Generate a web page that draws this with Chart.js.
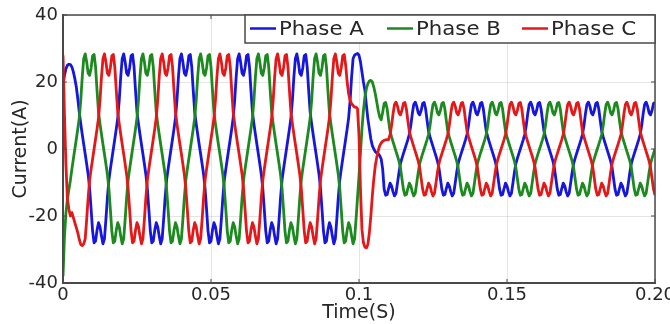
<!DOCTYPE html>
<html>
<head>
<meta charset="utf-8">
<script src="https://cdn.jsdelivr.net/npm/chart.js@4/dist/chart.umd.min.js"></script>
<style>
  html, body { margin: 0; padding: 0; background: #fff; }
  #currentChart { display: block; }
</style>
</head>
<body>
<canvas id="currentChart" width="670" height="324"></canvas>
<script>
/**
 * Courants de phase - simulation 0 a 0.2 s
 * Echantillons toutes les 0.5 ms, changement de charge a 0.1 s
 */

// Instants d'echantillonnage (ms)
const TIME_MS = [
    0, 0.5, 1, 1.5, 2, 2.5, 3, 3.5, 4, 4.5, 5, 5.5, 6, 6.5, 7, 7.5, 8, 8.5, 9, 9.5,
    10, 10.5, 11, 11.5, 12, 12.5, 13, 13.5, 14, 14.5, 15, 15.5, 16, 16.5, 17, 17.5, 18, 18.5, 19, 19.5,
    20, 20.5, 21, 21.5, 22, 22.5, 23, 23.5, 24, 24.5, 25, 25.5, 26, 26.5, 27, 27.5, 28, 28.5, 29, 29.5,
    30, 30.5, 31, 31.5, 32, 32.5, 33, 33.5, 34, 34.5, 35, 35.5, 36, 36.5, 37, 37.5, 38, 38.5, 39, 39.5,
    40, 40.5, 41, 41.5, 42, 42.5, 43, 43.5, 44, 44.5, 45, 45.5, 46, 46.5, 47, 47.5, 48, 48.5, 49, 49.5,
    50, 50.5, 51, 51.5, 52, 52.5, 53, 53.5, 54, 54.5, 55, 55.5, 56, 56.5, 57, 57.5, 58, 58.5, 59, 59.5,
    60, 60.5, 61, 61.5, 62, 62.5, 63, 63.5, 64, 64.5, 65, 65.5, 66, 66.5, 67, 67.5, 68, 68.5, 69, 69.5,
    70, 70.5, 71, 71.5, 72, 72.5, 73, 73.5, 74, 74.5, 75, 75.5, 76, 76.5, 77, 77.5, 78, 78.5, 79, 79.5,
    80, 80.5, 81, 81.5, 82, 82.5, 83, 83.5, 84, 84.5, 85, 85.5, 86, 86.5, 87, 87.5, 88, 88.5, 89, 89.5,
    90, 90.5, 91, 91.5, 92, 92.5, 93, 93.5, 94, 94.5, 95, 95.5, 96, 96.5, 97, 97.5, 98, 98.5, 99, 99.5,
    100, 100.5, 101, 101.5, 102, 102.5, 103, 103.5, 104, 104.5, 105, 105.5, 106, 106.5, 107, 107.5, 108, 108.5, 109, 109.5,
    110, 110.5, 111, 111.5, 112, 112.5, 113, 113.5, 114, 114.5, 115, 115.5, 116, 116.5, 117, 117.5, 118, 118.5, 119, 119.5,
    120, 120.5, 121, 121.5, 122, 122.5, 123, 123.5, 124, 124.5, 125, 125.5, 126, 126.5, 127, 127.5, 128, 128.5, 129, 129.5,
    130, 130.5, 131, 131.5, 132, 132.5, 133, 133.5, 134, 134.5, 135, 135.5, 136, 136.5, 137, 137.5, 138, 138.5, 139, 139.5,
    140, 140.5, 141, 141.5, 142, 142.5, 143, 143.5, 144, 144.5, 145, 145.5, 146, 146.5, 147, 147.5, 148, 148.5, 149, 149.5,
    150, 150.5, 151, 151.5, 152, 152.5, 153, 153.5, 154, 154.5, 155, 155.5, 156, 156.5, 157, 157.5, 158, 158.5, 159, 159.5,
    160, 160.5, 161, 161.5, 162, 162.5, 163, 163.5, 164, 164.5, 165, 165.5, 166, 166.5, 167, 167.5, 168, 168.5, 169, 169.5,
    170, 170.5, 171, 171.5, 172, 172.5, 173, 173.5, 174, 174.5, 175, 175.5, 176, 176.5, 177, 177.5, 178, 178.5, 179, 179.5,
    180, 180.5, 181, 181.5, 182, 182.5, 183, 183.5, 184, 184.5, 185, 185.5, 186, 186.5, 187, 187.5, 188, 188.5, 189, 189.5,
    190, 190.5, 191, 191.5, 192, 192.5, 193, 193.5, 194, 194.5, 195, 195.5, 196, 196.5, 197, 197.5, 198, 198.5, 199, 199.5,
    200
];

// Courant phase A (A)
const PHASE_A = [
    19, 22, 24, 25, 25.3, 25.2, 24.5, 23, 21, 18.5, 15, 11.0, 7.5, 4.4, 1.4, -1.5, -4.5, -7.6, -11.8, -18.0, -24.5, -28.0, -27.5, -24.2, -22.0, -23.2, -26.0, -28.3, -26.8, -21.0, -14.5, -9.3, -6.0, -3.0, 0, 3.0, 6.0, 9.3, 14.5,
    21.5, 27.0, 28.4, 26.0, 22.6, 22.0, 24.2, 27.8, 28.2, 24.5, 17.5, 11.0, 7.5, 4.4, 1.4, -1.5, -4.5, -7.6, -11.8, -18.0, -24.5, -28.0, -27.5, -24.2, -22.0, -23.2, -26.0, -28.3, -26.8, -21.0, -14.5, -9.3, -6.0, -3.0, 0, 3.0, 6.0, 9.3, 14.5,
    21.5, 27.0, 28.4, 26.0, 22.6, 22.0, 24.2, 27.8, 28.2, 24.5, 17.5, 11.0, 7.5, 4.4, 1.4, -1.5, -4.5, -7.6, -11.8, -18.0, -24.5, -28.0, -27.5, -24.2, -22.0, -23.2, -26.0, -28.3, -26.8, -21.0, -14.5, -9.3, -6.0, -3.0, 0, 3.0, 6.0, 9.3, 14.5,
    21.5, 27.0, 28.4, 26.0, 22.6, 22.0, 24.2, 27.8, 28.2, 24.5, 17.5, 11.0, 7.5, 4.4, 1.4, -1.5, -4.5, -7.6, -11.8, -18.0, -24.5, -28.0, -27.5, -24.2, -22.0, -23.2, -26.0, -28.3, -26.8, -21.0, -14.5, -9.3, -6.0, -3.0, 0, 3.0, 6.0, 9.3, 14.5,
    21.5, 27.0, 28.4, 26.0, 22.6, 22.0, 24.2, 27.8, 28.2, 24.5, 17.5, 11.0, 7.5, 4.4, 1.4, -1.5, -4.5, -7.6, -11.8, -18.0, -24.5, -28.0, -27.5, -24.2, -22.0, -23.2, -26.0, -28.3, -26.8, -21.0, -14.5, -9.3, -6.0, -3.0, 0, 3.0, 6.0, 9.3, 14.5,
    21.5, 27.0, 28.0, 28.3, 28.5,
    // 0.1 s : transitoire
    28, 26, 23, 20, 17.5, 13, 9, 6, 3, 1, 0, -0.8, -1.2, -1.5, -2, -3, -6,
    -12.0, -13.8, -13.6, -11.8, -10.2, -11.0, -12.8, -14.0, -13.2, -10.2, -7.0, -4.4, -2.8, -1.4,
    0, 1.4, 2.8, 4.4, 7.0, 10.5, 13.3, 14.0, 12.8, 10.8, 10.2, 11.5, 13.6, 13.9, 12.0, 8.5, 5.3, 3.6, 2.1, 0.7, -0.7, -2.1, -3.6, -5.6, -8.8, -12.0, -13.8, -13.6, -11.8, -10.2, -11.0, -12.8, -14.0, -13.2, -10.2, -7.0, -4.4, -2.8, -1.4,
    0, 1.4, 2.8, 4.4, 7.0, 10.5, 13.3, 14.0, 12.8, 10.8, 10.2, 11.5, 13.6, 13.9, 12.0, 8.5, 5.3, 3.6, 2.1, 0.7, -0.7, -2.1, -3.6, -5.6, -8.8, -12.0, -13.8, -13.6, -11.8, -10.2, -11.0, -12.8, -14.0, -13.2, -10.2, -7.0, -4.4, -2.8, -1.4,
    0, 1.4, 2.8, 4.4, 7.0, 10.5, 13.3, 14.0, 12.8, 10.8, 10.2, 11.5, 13.6, 13.9, 12.0, 8.5, 5.3, 3.6, 2.1, 0.7, -0.7, -2.1, -3.6, -5.6, -8.8, -12.0, -13.8, -13.6, -11.8, -10.2, -11.0, -12.8, -14.0, -13.2, -10.2, -7.0, -4.4, -2.8, -1.4,
    0, 1.4, 2.8, 4.4, 7.0, 10.5, 13.3, 14.0, 12.8, 10.8, 10.2, 11.5, 13.6, 13.9, 12.0, 8.5, 5.3, 3.6, 2.1, 0.7, -0.7, -2.1, -3.6, -5.6, -8.8, -12.0, -13.8, -13.6, -11.8, -10.2, -11.0, -12.8, -14.0, -13.2, -10.2, -7.0, -4.4, -2.8, -1.4,
    0, 1.4, 2.8, 4.4, 7.0, 10.5, 13.3, 14.0, 12.8, 10.8, 10.2, 11.5, 13.6, 13.9
];

// Courant phase B (A)
const PHASE_B = [
    -38, -26, -19, -15, -12, -9.3, -6.0, -3.0,
    0, 3.0, 6.0, 9.3, 14.5, 21.5, 27.0, 28.4, 26.0, 22.6, 22.0, 24.2, 27.8, 28.2, 24.5, 17.5, 11.0, 7.5, 4.4, 1.4, -1.5, -4.5, -7.6, -11.8, -18.0, -24.5, -28.0, -27.5, -24.2, -22.0, -23.2, -26.0, -28.3, -26.8, -21.0, -14.5, -9.3, -6.0, -3.0,
    0, 3.0, 6.0, 9.3, 14.5, 21.5, 27.0, 28.4, 26.0, 22.6, 22.0, 24.2, 27.8, 28.2, 24.5, 17.5, 11.0, 7.5, 4.4, 1.4, -1.5, -4.5, -7.6, -11.8, -18.0, -24.5, -28.0, -27.5, -24.2, -22.0, -23.2, -26.0, -28.3, -26.8, -21.0, -14.5, -9.3, -6.0, -3.0,
    0, 3.0, 6.0, 9.3, 14.5, 21.5, 27.0, 28.4, 26.0, 22.6, 22.0, 24.2, 27.8, 28.2, 24.5, 17.5, 11.0, 7.5, 4.4, 1.4, -1.5, -4.5, -7.6, -11.8, -18.0, -24.5, -28.0, -27.5, -24.2, -22.0, -23.2, -26.0, -28.3, -26.8, -21.0, -14.5, -9.3, -6.0, -3.0,
    0, 3.0, 6.0, 9.3, 14.5, 21.5, 27.0, 28.4, 26.0, 22.6, 22.0, 24.2, 27.8, 28.2, 24.5, 17.5, 11.0, 7.5, 4.4, 1.4, -1.5, -4.5, -7.6, -11.8, -18.0, -24.5, -28.0, -27.5, -24.2, -22.0, -23.2, -26.0, -28.3, -26.8, -21.0, -14.5, -9.3, -6.0, -3.0,
    0, 3.0, 6.0, 9.3, 14.5, 21.5, 27.0, 28.4, 26.0, 22.6, 22.0, 24.2, 27.8, 28.2, 24.5, 17.5, 11.0, 7.5, 4.4, 1.4, -1.5, -4.5, -7.6, -11.8, -18.0, -24.5, -28.0, -27.5, -24.2, -22.0, -23.2, -26.0, -28.3, -26.8, -21.0, -14.5,
    // 0.1 s : transitoire
    -8, -1, 6, 11.5, 15.5, 18, 19.5, 20.3, 20.5, 20, 18.5, 16.5, 14, 11.5, 9.5, 8.7, 11,
    13.6, 13.9, 12.0, 8.5, 5.3, 3.6, 2.1, 0.7, -0.7, -2.1, -3.6, -5.6, -8.8, -12.0, -13.8, -13.6, -11.8, -10.2, -11.0, -12.8, -14.0, -13.2, -10.2, -7.0, -4.4, -2.8, -1.4,
    0, 1.4, 2.8, 4.4, 7.0, 10.5, 13.3, 14.0, 12.8, 10.8, 10.2, 11.5, 13.6, 13.9, 12.0, 8.5, 5.3, 3.6, 2.1, 0.7, -0.7, -2.1, -3.6, -5.6, -8.8, -12.0, -13.8, -13.6, -11.8, -10.2, -11.0, -12.8, -14.0, -13.2, -10.2, -7.0, -4.4, -2.8, -1.4,
    0, 1.4, 2.8, 4.4, 7.0, 10.5, 13.3, 14.0, 12.8, 10.8, 10.2, 11.5, 13.6, 13.9, 12.0, 8.5, 5.3, 3.6, 2.1, 0.7, -0.7, -2.1, -3.6, -5.6, -8.8, -12.0, -13.8, -13.6, -11.8, -10.2, -11.0, -12.8, -14.0, -13.2, -10.2, -7.0, -4.4, -2.8, -1.4,
    0, 1.4, 2.8, 4.4, 7.0, 10.5, 13.3, 14.0, 12.8, 10.8, 10.2, 11.5, 13.6, 13.9, 12.0, 8.5, 5.3, 3.6, 2.1, 0.7, -0.7, -2.1, -3.6, -5.6, -8.8, -12.0, -13.8, -13.6, -11.8, -10.2, -11.0, -12.8, -14.0, -13.2, -10.2, -7.0, -4.4, -2.8, -1.4,
    0, 1.4, 2.8, 4.4, 7.0, 10.5, 13.3, 14.0, 12.8, 10.8, 10.2, 11.5, 13.6, 13.9, 12.0, 8.5, 5.3, 3.6, 2.1, 0.7, -0.7, -2.1, -3.6, -5.6, -8.8, -12.0, -13.8, -13.6, -11.8, -10.2, -11.0, -12.8, -14.0, -13.2, -10.2, -7.0, -4.4, -2.8, -1.4,
    0
];

// Courant phase C (A)
const PHASE_C = [
    28, 10, -5, -15, -18, -20, -19, -20.5, -22, -23.5, -25, -27, -28.5, -28.8, -28.3, -26.8, -21.0, -14.5, -9.3, -6.0, -3.0,
    0, 3.0, 6.0, 9.3, 14.5, 21.5, 27.0, 28.4, 26.0, 22.6, 22.0, 24.2, 27.8, 28.2, 24.5, 17.5, 11.0, 7.5, 4.4, 1.4, -1.5, -4.5, -7.6, -11.8, -18.0, -24.5, -28.0, -27.5, -24.2, -22.0, -23.2, -26.0, -28.3, -26.8, -21.0, -14.5, -9.3, -6.0, -3.0,
    0, 3.0, 6.0, 9.3, 14.5, 21.5, 27.0, 28.4, 26.0, 22.6, 22.0, 24.2, 27.8, 28.2, 24.5, 17.5, 11.0, 7.5, 4.4, 1.4, -1.5, -4.5, -7.6, -11.8, -18.0, -24.5, -28.0, -27.5, -24.2, -22.0, -23.2, -26.0, -28.3, -26.8, -21.0, -14.5, -9.3, -6.0, -3.0,
    0, 3.0, 6.0, 9.3, 14.5, 21.5, 27.0, 28.4, 26.0, 22.6, 22.0, 24.2, 27.8, 28.2, 24.5, 17.5, 11.0, 7.5, 4.4, 1.4, -1.5, -4.5, -7.6, -11.8, -18.0, -24.5, -28.0, -27.5, -24.2, -22.0, -23.2, -26.0, -28.3, -26.8, -21.0, -14.5, -9.3, -6.0, -3.0,
    0, 3.0, 6.0, 9.3, 14.5, 21.5, 27.0, 28.4, 26.0, 22.6, 22.0, 24.2, 27.8, 28.2, 24.5, 17.5, 11.0, 7.5, 4.4, 1.4, -1.5, -4.5, -7.6, -11.8, -18.0, -24.5, -28.0, -27.5, -24.2, -22.0, -23.2, -26.0, -28.3, -26.8, -21.0, -14.5, -9.3, -6.0, -3.0,
    0, 3.0, 6.0, 9.3, 14.5, 21.5, 27.0, 28.4, 26.0, 22.6, 22.0, 24.2,
    27.8, 28.2, 25, 20, 16.5, 14.5, 13.5, 13, 12.5, 12.5, 12,
    // 0.1 s : transitoire
    4, -12, -24, -28, -29.3, -29.5, -28.5, -25, -20, -14, -9, -5, -2.5, -0.5, 1, 1.8, 2.3, 2.6, 2.7, 2.8,
    2.8, 4.4, 7.0, 10.5, 13.3, 14.0, 12.8, 10.8, 10.2, 11.5, 13.6, 13.9, 12.0, 8.5, 5.3, 3.6, 2.1, 0.7, -0.7, -2.1, -3.6, -5.6, -8.8, -12.0, -13.8, -13.6, -11.8, -10.2, -11.0, -12.8, -14.0, -13.2, -10.2, -7.0, -4.4, -2.8, -1.4,
    0, 1.4, 2.8, 4.4, 7.0, 10.5, 13.3, 14.0, 12.8, 10.8, 10.2, 11.5, 13.6, 13.9, 12.0, 8.5, 5.3, 3.6, 2.1, 0.7, -0.7, -2.1, -3.6, -5.6, -8.8, -12.0, -13.8, -13.6, -11.8, -10.2, -11.0, -12.8, -14.0, -13.2, -10.2, -7.0, -4.4, -2.8, -1.4,
    0, 1.4, 2.8, 4.4, 7.0, 10.5, 13.3, 14.0, 12.8, 10.8, 10.2, 11.5, 13.6, 13.9, 12.0, 8.5, 5.3, 3.6, 2.1, 0.7, -0.7, -2.1, -3.6, -5.6, -8.8, -12.0, -13.8, -13.6, -11.8, -10.2, -11.0, -12.8, -14.0, -13.2, -10.2, -7.0, -4.4, -2.8, -1.4,
    0, 1.4, 2.8, 4.4, 7.0, 10.5, 13.3, 14.0, 12.8, 10.8, 10.2, 11.5, 13.6, 13.9, 12.0, 8.5, 5.3, 3.6, 2.1, 0.7, -0.7, -2.1, -3.6, -5.6, -8.8, -12.0, -13.8, -13.6, -11.8, -10.2, -11.0, -12.8, -14.0, -13.2, -10.2, -7.0, -4.4, -2.8, -1.4,
    0, 1.4, 2.8, 4.4, 7.0, 10.5, 13.3, 14.0, 12.8, 10.8, 10.2, 11.5, 13.6, 13.9, 12.0, 8.5, 5.3, 3.6, 2.1, 0.7, -0.7, -2.1, -3.6, -5.6, -8.8, -12.0, -13.8
];

const SERIES_LABELS = ['Phase A', 'Phase B', 'Phase C'];
const X_TICK_LABELS = ['0', '0.05', '0.1', '0.15', '0.20'];
const Y_TICKS = [-40, -20, 0, 20, 40];

const COLORS = {
    a: '#1616dc',
    b: '#1c8a1e',
    c: '#e41818',
    text: '#262626',
    frame: '#4a4a4a',
    grid: 'rgba(0, 0, 0, 0.10)'
};

const FONT = "'DejaVu Sans', sans-serif";

/**
 * Cadre autour de la zone de trace + graduations vers l'interieur
 */
const framePlugin = {
    id: 'frame',
    afterDatasetsDraw(chart) {
        const { ctx, chartArea: a, scales: { x, y } } = chart;
        ctx.save();
        ctx.strokeStyle = COLORS.frame;
        ctx.lineWidth = 1.5;
        ctx.strokeRect(a.left, a.top, a.right - a.left, a.bottom - a.top);

        ctx.beginPath();
        x.ticks.forEach(t => {
            const px = x.getPixelForValue(t.value);
            ctx.moveTo(px, a.bottom); ctx.lineTo(px, a.bottom - 4);
            ctx.moveTo(px, a.top); ctx.lineTo(px, a.top + 4);
        });
        y.ticks.forEach(t => {
            const py = y.getPixelForValue(t.value);
            ctx.moveTo(a.left, py); ctx.lineTo(a.left + 4, py);
            ctx.moveTo(a.right, py); ctx.lineTo(a.right - 4, py);
        });
        ctx.lineWidth = 1;
        ctx.stroke();
        ctx.restore();
    }
};

/**
 * Legende encadree en haut a droite
 */
const legendPlugin = {
    id: 'phaseLegend',
    afterDraw(chart) {
        const { ctx, chartArea: a } = chart;
        const box = { left: 245, top: a.top, right: a.right, bottom: 43 };
        const itemStarts = [250, 387, 522];

        ctx.save();
        ctx.fillStyle = '#fff';
        ctx.fillRect(box.left, box.top, box.right - box.left, box.bottom - box.top);
        ctx.strokeStyle = COLORS.frame;
        ctx.lineWidth = 1.5;
        ctx.strokeRect(box.left, box.top, box.right - box.left, box.bottom - box.top);

        chart.data.datasets.forEach((ds, i) => {
            const x0 = itemStarts[i];
            ctx.strokeStyle = ds.borderColor;
            ctx.lineWidth = 2.5;
            ctx.beginPath();
            ctx.moveTo(x0, 28.5);
            ctx.lineTo(x0 + 26, 28.5);
            ctx.stroke();

            ctx.save();
            ctx.translate(x0 + 29, 35);
            ctx.scale(1.12, 1);
            ctx.fillStyle = COLORS.text;
            ctx.font = '19px ' + FONT;
            ctx.textBaseline = 'alphabetic';
            ctx.fillText(ds.label, 0, 0);
            ctx.restore();
        });
        ctx.restore();
    }
};

function lineDataset(label, data, color, order) {
    return {
        label: label,
        data: data,
        borderColor: color,
        backgroundColor: color,
        borderWidth: 2.8,
        pointRadius: 0,
        tension: 0,
        borderJoinStyle: 'round',
        order: order
    };
}

new Chart(document.getElementById('currentChart'), {
    type: 'line',
    data: {
        labels: TIME_MS,
        datasets: [
            lineDataset(SERIES_LABELS[0], PHASE_A, COLORS.a, 2),
            lineDataset(SERIES_LABELS[1], PHASE_B, COLORS.b, 1),
            lineDataset(SERIES_LABELS[2], PHASE_C, COLORS.c, 0)
        ]
    },
    options: {
        responsive: false,
        animation: false,
        devicePixelRatio: 1,
        layout: { padding: { top: 15, right: 15, left: 0, bottom: 0 } },
        plugins: {
            legend: { display: false },
            tooltip: { enabled: false }
        },
        scales: {
            x: {
                type: 'linear',
                min: 0,
                max: 200,
                afterFit(scale) {
                    scale.height = 41;
                    scale.paddingLeft = 0;
                    scale.paddingRight = 0;
                },
                ticks: {
                    stepSize: 50,
                    maxRotation: 0,
                    padding: 2,
                    color: COLORS.text,
                    font: { family: FONT, size: 18 },
                    callback: (v, i) => X_TICK_LABELS[i]
                },
                grid: { color: COLORS.grid, drawTicks: false },
                border: { display: true, color: COLORS.frame, width: 2 },
                title: {
                    display: true,
                    text: 'Time(S)',
                    color: COLORS.text,
                    font: { family: FONT, size: 19 },
                    padding: { top: 0, bottom: 0 }
                }
            },
            y: {
                min: Y_TICKS[0],
                max: Y_TICKS[Y_TICKS.length - 1],
                afterFit(scale) {
                    scale.width = 63;
                    scale.paddingTop = 0;
                    scale.paddingBottom = 0;
                },
                afterBuildTicks(scale) {
                    scale.ticks = Y_TICKS.map(v => ({ value: v }));
                },
                ticks: {
                    padding: 5,
                    color: COLORS.text,
                    font: { family: FONT, size: 18 }
                },
                grid: { color: COLORS.grid, drawTicks: false },
                border: { display: true, color: COLORS.frame, width: 2 },
                title: {
                    display: true,
                    text: 'Current(A)',
                    color: COLORS.text,
                    font: { family: FONT, size: 19 },
                    padding: { top: 10, bottom: 0 }
                }
            }
        }
    },
    plugins: [framePlugin, legendPlugin]
});
</script>
</body>
</html>
